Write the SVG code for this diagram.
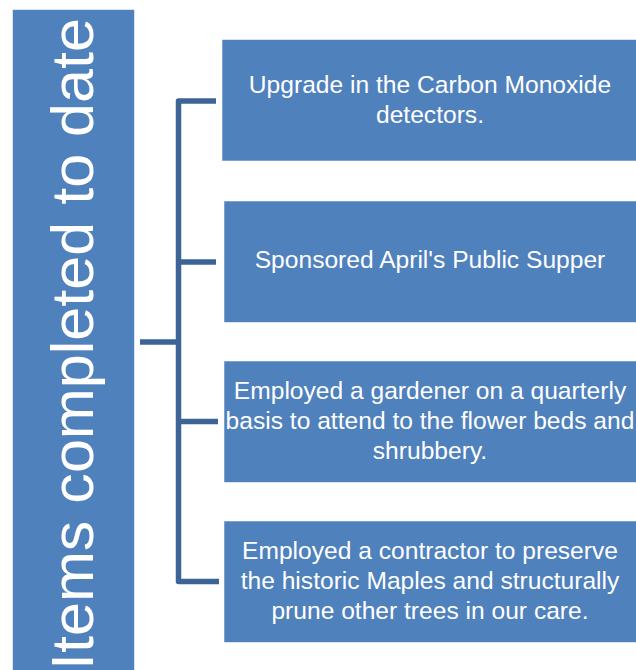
<svg xmlns="http://www.w3.org/2000/svg" width="636" height="670" viewBox="0 0 636 670">
  <style>
    .box { fill: #4F81BD; stroke: #FFFFFF; stroke-opacity: 0.55; stroke-width: 1; }
    .lbl { font-family: "Liberation Sans", Arial, sans-serif; font-size: 24.6px; fill: #FFFFFF; text-anchor: middle; }
    .title { font-family: "Liberation Sans", Arial, sans-serif; font-size: 60px; fill: #FFFFFF; }
    .conn { fill: none; stroke: #3D6497; stroke-width: 5.5; stroke-linejoin: round; }
  </style>
  <rect width="636" height="670" fill="#FFFFFF"/>
  <g id="header">
    <rect class="box" x="12.5" y="9.5" width="122" height="670"/>
    <text class="title" transform="translate(93,670) rotate(-90)" x="0" y="0" textLength="652" lengthAdjust="spacingAndGlyphs">Items completed to date</text>
  </g>
  <g id="connectors">
    <path class="conn" d="M140,342 H178.5"/>
    <path class="conn" d="M216,101 H178.5 V581.5 H219"/>
    <path class="conn" d="M178.5,262 H216"/>
    <path class="conn" d="M178.5,421.5 H218"/>
  </g>
  <g id="item1">
    <rect class="box" x="222" y="39.5" width="420" height="121.5"/>
    <text class="lbl" x="430" y="93">Upgrade in the Carbon Monoxide</text>
    <text class="lbl" x="430" y="123">detectors.</text>
  </g>
  <g id="item2">
    <rect class="box" x="224" y="201" width="420" height="121.5"/>
    <text class="lbl" x="430" y="268">Sponsored April's Public Supper</text>
  </g>
  <g id="item3">
    <rect class="box" x="224" y="361" width="420" height="121.5"/>
    <text class="lbl" x="430" y="399">Employed a gardener on a quarterly</text>
    <text class="lbl" x="430" y="429">basis to attend to the flower beds and</text>
    <text class="lbl" x="430" y="459">shrubbery.</text>
  </g>
  <g id="item4">
    <rect class="box" x="224" y="521" width="420" height="121.5"/>
    <text class="lbl" x="430" y="559">Employed a contractor to preserve</text>
    <text class="lbl" x="430" y="589">the historic Maples and structurally</text>
    <text class="lbl" x="430" y="619">prune other trees in our care.</text>
  </g>
</svg>
